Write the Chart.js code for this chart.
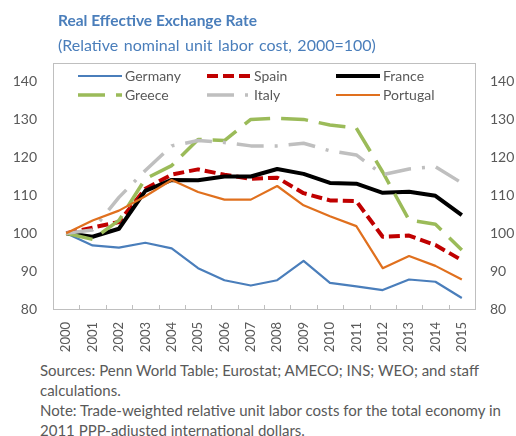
<!DOCTYPE html>
<html>
<head>
<meta charset="utf-8">
<script src="https://cdn.jsdelivr.net/npm/chart.js@4.4.1/dist/chart.umd.min.js"></script>
<style>
  html, body { margin: 0; padding: 0; background: #ffffff; }
  body { width: 516px; height: 436px; position: relative; overflow: hidden; font-family: Lato, "Open Sans", sans-serif; }
  #title { position: absolute; left: 58px; top: 11px; font-size: 15.5px; font-weight: bold; color: #4A7EBB; white-space: nowrap; line-height: 18px; }
  #subtitle { position: absolute; left: 58px; top: 35px; font-size: 16px; word-spacing: 1.5px; color: #4A7EBB; white-space: nowrap; line-height: 19px; }
  #chartBox { position: absolute; left: 0; top: 0; width: 516px; height: 360px; }
  #notes { position: absolute; left: 40px; top: 360px; font-size: 15px; color: #595959; white-space: nowrap; line-height: 20px; }
</style>
</head>
<body>
<div id="chartBox"><canvas id="c"></canvas></div>
<div id="title">Real Effective Exchange Rate</div>
<div id="subtitle">(Relative nominal unit labor cost, 2000=100)</div>
<div id="notes">Sources: Penn World Table; Eurostat; AMECO; INS; WEO; and staff<br>calculations.<br>Note: Trade-weighted relative unit labor costs for the total economy in<br>2011 PPP-adjusted international dollars.</div>
<script>
const years = ['2000','2001','2002','2003','2004','2005','2006','2007','2008','2009','2010','2011','2012','2013','2014','2015'];
const germany  = [100, 96.8, 96.2, 97.5, 96.0, 90.8, 87.6, 86.2, 87.6, 92.7, 86.9, 86.0, 85.0, 87.8, 87.2, 82.9];
const spain    = [100, 101.5, 103.0, 111.8, 115.5, 116.9, 115.5, 114.4, 114.7, 110.6, 108.7, 108.5, 99.1, 99.4, 96.9, 92.9];
const france   = [100, 99.1, 101.2, 111.2, 114.1, 114.0, 115.0, 115.0, 117.0, 115.7, 113.3, 113.1, 110.7, 111.0, 109.9, 104.8];
const greece   = [100, 98.4, 103.4, 114.4, 117.9, 124.8, 124.5, 130.1, 130.4, 130.1, 128.6, 127.8, 116.2, 103.5, 102.4, 95.6];
const italy    = [100, 100.9, 109.5, 116.6, 123.1, 124.5, 124.0, 123.1, 123.1, 123.8, 121.8, 120.7, 115.5, 117.0, 117.6, 113.3];
const portugal = [100, 103.4, 106.0, 109.8, 114.1, 110.9, 108.9, 108.9, 112.5, 107.4, 104.5, 101.9, 90.8, 94.0, 91.4, 87.8];
const seriesNames = ['Germany', 'Spain', 'France', 'Greece', 'Italy', 'Portugal'];
const yTicks = [80, 90, 100, 110, 120, 130, 140];

Chart.defaults.font.family = 'Lato, "Open Sans", sans-serif';
Chart.defaults.color = '#595959';

const styles = [
  { color: '#4A7EBB', width: 2.2, dash: [] },
  { color: '#C00000', width: 4, dash: [11, 5] },
  { color: '#000000', width: 4, dash: [] },
  { color: '#9BBB59', width: 3.5, dash: [27, 11] },
  { color: '#BFBFBF', width: 3.5, dash: [27, 11, 3, 11] },
  { color: '#E0701E', width: 2.2, dash: [] }
];
const values = [germany, spain, france, greece, italy, portugal];

const datasets = values.map((v, i) => ({
  label: seriesNames[i],
  data: v,
  borderColor: styles[i].color,
  backgroundColor: styles[i].color,
  borderWidth: styles[i].width,
  borderDash: styles[i].dash,
  borderCapStyle: 'butt',
  borderJoinStyle: 'round',
  pointRadius: 0,
  tension: 0,
  fill: false,
  order: values.length - i,
  yAxisID: 'y'
}));

const framePlugin = {
  id: 'frame',
  beforeDatasetsDraw(chart) {
    const { ctx, chartArea: a } = chart;
    const xs = chart.scales.x;
    ctx.save();
    ctx.strokeStyle = '#BFBFBF';
    ctx.lineWidth = 1;
    ctx.strokeRect(Math.round(a.left) + 0.5, Math.round(a.top) + 0.5, Math.round(a.right - a.left), Math.round(a.bottom - a.top));
    for (let i = 1; i < years.length; i++) {
      const x = Math.round((xs.getPixelForValue(i - 1) + xs.getPixelForValue(i)) / 2) + 0.5;
      ctx.beginPath();
      ctx.moveTo(x, Math.round(a.bottom));
      ctx.lineTo(x, Math.round(a.bottom) - 4);
      ctx.stroke();
    }
    ctx.restore();
  }
};

const legendPlugin = {
  id: 'gridLegend',
  afterDatasetsDraw(chart) {
    const { ctx } = chart;
    const colX = [78, 207, 336];
    const rowY = [76, 95];
    ctx.save();
    chart.data.datasets.forEach((ds, i) => {
      const c = i % 3, r = Math.floor(i / 3);
      const x = colX[c], y = rowY[r];
      ctx.beginPath();
      ctx.strokeStyle = ds.borderColor;
      ctx.lineWidth = ds.borderWidth;
      ctx.setLineDash(ds.borderDash || []);
      ctx.lineCap = 'butt';
      ctx.moveTo(x, y);
      ctx.lineTo(x + 44, y);
      ctx.stroke();
      ctx.setLineDash([]);
      ctx.fillStyle = '#595959';
      ctx.font = '14px Lato, "Open Sans", sans-serif';
      ctx.textBaseline = 'middle';
      ctx.textAlign = 'left';
      ctx.fillText(ds.label, x + 47, y);
    });
    ctx.restore();
  }
};

new Chart(document.getElementById('c'), {
  type: 'line',
  data: { labels: years, datasets },
  plugins: [framePlugin, legendPlugin],
  options: {
    responsive: true,
    maintainAspectRatio: false,
    animation: false,
    layout: { padding: { top: 63, left: 0, right: 0, bottom: 0 } },
    plugins: { legend: { display: false }, tooltip: { enabled: false }, title: { display: false } },
    scales: {
      x: {
        type: 'category',
        offset: true,
        grid: { display: false, drawTicks: false },
        border: { display: false },
        ticks: { autoSkip: false, maxRotation: 90, minRotation: 90, padding: 13, font: { size: 13 }, color: '#595959' },
        afterFit(scale) { scale.height = 51; }
      },
      y: {
        position: 'left',
        min: 80, max: 145,
        grid: { display: false, drawTicks: false },
        border: { display: false },
        ticks: { padding: 16, font: { size: 14 }, color: '#595959' },
        afterBuildTicks(scale) { scale.ticks = yTicks.map(v => ({ value: v })); },
        afterFit(scale) { scale.width = 53; }
      },
      y2: {
        position: 'right',
        min: 80, max: 145,
        grid: { display: false, drawTicks: false },
        border: { display: false },
        ticks: { padding: 15, font: { size: 14 }, color: '#595959' },
        afterBuildTicks(scale) { scale.ticks = yTicks.map(v => ({ value: v })); },
        afterFit(scale) { scale.width = 41; }
      }
    }
  }
});
</script>
</body>
</html>
